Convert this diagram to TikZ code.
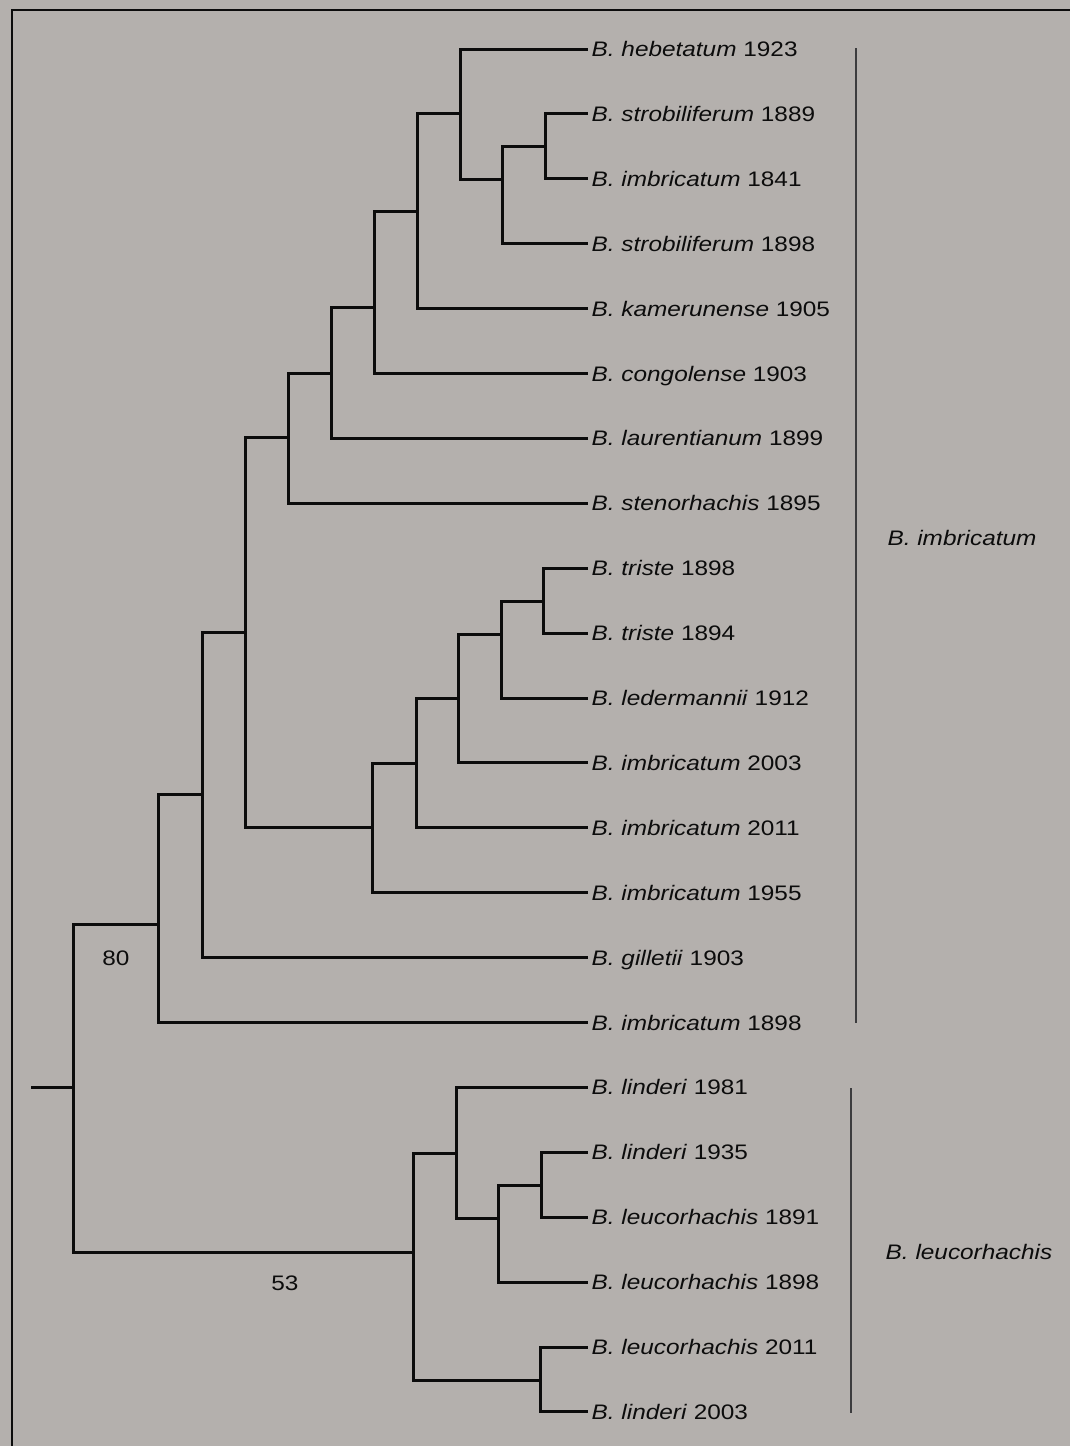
\documentclass[tikz,border=0pt]{standalone}
\usepackage{fontspec}
\setmainfont{Liberation Sans}[FakeStretch=1.16]
\usepackage{tikz}
\definecolor{paper}{RGB}{180,176,173}
\definecolor{ink}{RGB}{12,12,12}
\definecolor{barink}{RGB}{60,60,62}

\begin{document}
\begin{tikzpicture}[x=1pt,y=-1pt]
	\tikzstyle{every node}=[font=\fontsize{21}{24}\selectfont, text=ink]
	\tikzstyle{taxon}=[anchor=west, inner xsep=3.5pt, inner ysep=0pt, text height=15pt, text depth=0pt]
	\tikzstyle{branch}=[ink, line width=3pt]
	\tikzstyle{grpbar}=[barink, line width=1.8pt]
	\tikzstyle{support}=[inner sep=0pt]

	\fill[paper] (0,0) rectangle (1070,1446);
	\useasboundingbox (0,0) rectangle (1070,1446);
	\draw[ink, line width=2.2pt] (1070,10) -- (12,10) -- (12,1446);

	\foreach \n/\sp/\yr [count=\i from 0] in {
		hebA/hebetatum/1923, strA/strobiliferum/1889, imbA/imbricatum/1841,
		strB/strobiliferum/1898, kam/kamerunense/1905, con/congolense/1903,
		lau/laurentianum/1899, ste/stenorhachis/1895, triA/triste/1898,
		triB/triste/1894, led/ledermannii/1912, imbB/imbricatum/2003,
		imbC/imbricatum/2011, imbD/imbricatum/1955, gil/gilletii/1903,
		imbE/imbricatum/1898, linA/linderi/1981, linB/linderi/1935,
		leuA/leucorhachis/1891, leuB/leucorhachis/1898, leuC/leucorhachis/2011,
		linC/linderi/2003}
		\node[taxon] (\n) at (588,{49+64.9*\i}) {\textit{B. \sp} \yr};

	\coordinate (a) at (545,146);
	\coordinate (b) at (502,179);
	\coordinate (c) at (460,113);
	\coordinate (d) at (417,211);
	\coordinate (e) at (374,307);
	\coordinate (f) at (331,373);
	\coordinate (g) at (288,437);
	\coordinate (h) at (543,601);
	\coordinate (i) at (501,634);
	\coordinate (j) at (458,698);
	\coordinate (k) at (416,763);
	\coordinate (l) at (372,827);
	\coordinate (m) at (245,632);
	\coordinate (n) at (202,794);
	\coordinate (o) at (158,924);
	\coordinate (p) at (541,1185);
	\coordinate (q) at (498,1218);
	\coordinate (r) at (456,1153);
	\coordinate (s) at (540,1380);
	\coordinate (t) at (413,1252);
	\coordinate (root) at (73,1087);
	\coordinate (stem) at (31,1087);

	\draw[branch] (a) |- (strA.west); \draw[branch] (a) |- (imbA.west);
	\draw[branch] (b) |- (a); \draw[branch] (b) |- (strB.west);
	\draw[branch] (c) |- (hebA.west); \draw[branch] (c) |- (b);
	\draw[branch] (d) |- (c); \draw[branch] (d) |- (kam.west);
	\draw[branch] (e) |- (d); \draw[branch] (e) |- (con.west);
	\draw[branch] (f) |- (e); \draw[branch] (f) |- (lau.west);
	\draw[branch] (g) |- (f); \draw[branch] (g) |- (ste.west);
	\draw[branch] (h) |- (triA.west); \draw[branch] (h) |- (triB.west);
	\draw[branch] (i) |- (h); \draw[branch] (i) |- (led.west);
	\draw[branch] (j) |- (i); \draw[branch] (j) |- (imbB.west);
	\draw[branch] (k) |- (j); \draw[branch] (k) |- (imbC.west);
	\draw[branch] (l) |- (k); \draw[branch] (l) |- (imbD.west);
	\draw[branch] (m) |- (g); \draw[branch] (m) |- (l);
	\draw[branch] (n) |- (m); \draw[branch] (n) |- (gil.west);
	\draw[branch] (o) |- (n); \draw[branch] (o) |- (imbE.west);
	\draw[branch] (p) |- (linB.west); \draw[branch] (p) |- (leuA.west);
	\draw[branch] (q) |- (p); \draw[branch] (q) |- (leuB.west);
	\draw[branch] (r) |- (linA.west); \draw[branch] (r) |- (q);
	\draw[branch] (s) |- (leuC.west); \draw[branch] (s) |- (linC.west);
	\draw[branch] (t) |- (r); \draw[branch] (t) |- (s);
	\draw[branch] (stem) -- (root);
	\draw[branch] (root) |- (o); \draw[branch] (root) |- (t);

	\node[support] (bsA) at (116,958) {80};
	\node[support] (bsB) at (285,1283) {53};

	\draw[grpbar] (856,48) -- (856,1023);
	\draw[grpbar] (851,1088) -- (851,1413);
	\node (grpImb) at (962,538) {\textit{B. imbricatum}};
	\node (grpLeu) at (969,1252) {\textit{B. leucorhachis}};
\end{tikzpicture}
\end{document}
